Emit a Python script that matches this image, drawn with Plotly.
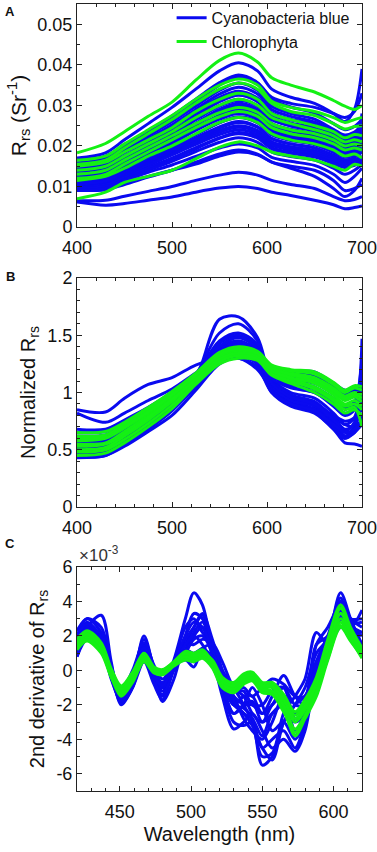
import plotly.graph_objects as go

# ---------------- DATA ----------------
# Panel A / B wavelengths (nm)
wl_ab = [400, 430, 450, 475, 500, 525, 550, 570, 590, 605, 625, 650, 670, 682, 692, 700]

# Panel A: Rrs (units of 1e-3 sr^-1)
rrs_cyano_milli = [
    [17.0, 18.3, 21.5, 25.5, 29.5, 34.0, 38.5, 40.5, 38.5, 34.0, 32.0, 30.5, 28.0, 26.0, 29.0, 39.0],
    [15.8, 17.0, 20.0, 23.6, 27.4, 31.5, 35.6, 37.5, 35.6, 31.5, 29.6, 28.1, 25.5, 24.0, 24.8, 26.5],
    [16.5, 17.5, 20.0, 23.5, 27.0, 31.0, 35.0, 37.0, 35.5, 32.0, 30.5, 29.5, 28.0, 27.0, 28.5, 33.0],
    [15.0, 16.0, 18.8, 22.4, 26.0, 29.8, 33.7, 35.5, 33.7, 29.8, 28.0, 26.6, 24.1, 22.7, 23.4, 25.0],
    [14.5, 15.5, 18.3, 21.7, 25.2, 29.0, 32.8, 34.5, 32.8, 29.0, 27.3, 25.9, 23.5, 22.1, 22.8, 24.5],
    [14.0, 15.0, 17.5, 21.0, 24.5, 28.0, 31.5, 33.0, 31.5, 28.0, 26.5, 25.5, 23.5, 22.0, 23.0, 26.0],
    [12.5, 13.5, 16.5, 20.5, 24.5, 28.5, 32.0, 33.5, 31.8, 28.2, 26.5, 25.1, 22.8, 21.4, 22.1, 23.5],
    [13.7, 14.6, 17.2, 20.5, 23.7, 27.3, 30.9, 32.5, 30.9, 27.3, 25.7, 24.4, 22.1, 20.8, 21.5, 23.0],
    [11.5, 12.5, 15.5, 19.0, 22.5, 26.5, 30.0, 31.5, 29.9, 26.5, 24.9, 23.6, 21.4, 20.2, 20.8, 22.0],
    [13.0, 14.0, 16.5, 19.8, 23.0, 26.5, 29.8, 31.2, 29.8, 26.5, 25.0, 24.0, 22.0, 20.5, 21.5, 24.0],
    [12.8, 13.7, 16.2, 19.2, 22.3, 25.6, 29.0, 30.5, 29.0, 25.6, 24.1, 22.9, 20.7, 19.5, 20.1, 21.0],
    [11.0, 12.0, 14.8, 18.3, 21.8, 25.2, 28.5, 30.0, 28.5, 25.2, 23.7, 22.5, 20.4, 19.2, 19.8, 28.0],
    [12.0, 13.0, 15.8, 19.0, 22.0, 25.3, 28.5, 29.8, 28.4, 25.2, 23.8, 22.8, 20.8, 19.6, 20.4, 22.5],
    [12.2, 13.0, 15.4, 18.3, 21.2, 24.4, 27.6, 29.0, 27.6, 24.4, 22.9, 21.8, 19.7, 18.6, 19.1, 20.5],
    [11.8, 12.6, 15.0, 18.0, 21.0, 24.0, 27.0, 28.5, 27.2, 24.0, 22.6, 21.5, 19.6, 18.3, 19.0, 21.0],
    [10.5, 11.5, 14.2, 17.5, 20.5, 23.8, 26.6, 28.0, 26.6, 23.5, 22.1, 21.0, 19.0, 17.9, 18.5, 19.5],
    [10.8, 11.7, 14.0, 17.0, 19.8, 22.8, 25.8, 27.2, 26.0, 23.0, 21.6, 20.6, 18.7, 17.5, 18.2, 19.5],
    [11.3, 12.2, 14.3, 17.0, 19.7, 22.7, 25.7, 27.0, 25.7, 22.7, 21.3, 20.3, 18.4, 17.3, 17.8, 19.0],
    [10.0, 11.0, 13.5, 16.5, 19.2, 22.0, 24.7, 26.0, 24.7, 21.8, 20.5, 19.5, 17.7, 16.6, 17.2, 25.0],
    [10.2, 11.0, 13.0, 16.0, 18.8, 21.6, 24.4, 25.8, 24.6, 21.8, 20.5, 19.5, 17.6, 16.5, 17.2, 18.5],
    [10.5, 11.3, 13.3, 15.8, 18.3, 21.0, 23.8, 25.0, 23.8, 21.0, 19.8, 18.8, 17.0, 16.0, 16.5, 17.5],
    [9.8, 10.6, 12.8, 15.5, 18.0, 20.8, 23.4, 24.6, 23.4, 20.7, 19.5, 18.5, 16.8, 15.8, 16.4, 17.0],
    [9.5, 10.3, 12.5, 15.2, 17.8, 20.4, 22.8, 24.0, 22.8, 20.2, 19.0, 18.0, 16.3, 15.4, 15.8, 16.5],
    [9.2, 10.0, 12.0, 14.6, 17.0, 19.6, 22.0, 23.3, 22.2, 19.6, 18.4, 17.5, 15.8, 14.8, 15.5, 16.8],
    [9.7, 10.4, 12.2, 14.5, 16.8, 19.3, 21.9, 23.0, 21.9, 19.3, 18.2, 17.3, 15.6, 14.7, 15.2, 16.0],
    [9.0, 9.8, 11.7, 14.0, 16.2, 18.6, 20.9, 22.0, 20.9, 18.5, 17.4, 16.5, 14.5, 13.0, 14.0, 15.5],
    [9.5, 10.0, 11.5, 13.5, 15.3, 17.4, 19.5, 20.5, 19.5, 17.2, 16.2, 15.2, 13.0, 11.0, 12.5, 14.5],
    [9.0, 9.2, 10.5, 12.3, 14.0, 16.0, 18.0, 19.0, 18.0, 16.0, 14.5, 12.5, 9.5, 7.5, 9.0, 12.0],
    [9.0, 9.5, 11.0, 12.5, 14.0, 15.5, 17.5, 18.5, 17.8, 16.0, 15.0, 14.0, 11.5, 9.0, 9.5, 10.5],
    [6.5, 6.6, 7.6, 8.8, 10.0, 11.5, 12.8, 13.5, 12.8, 11.5, 10.5, 9.5, 7.5, 6.5, 6.8, 7.5],
    [6.2, 5.4, 5.8, 6.6, 7.4, 8.6, 9.6, 10.0, 9.5, 8.6, 7.8, 6.6, 5.5, 4.5, 4.8, 5.2],
]
rrs_chloro_milli = [
    [18.3, 20.6, 23.5, 27.3, 30.8, 36.2, 41.1, 42.9, 40.7, 36.8, 35.0, 33.3, 31.2, 29.8, 29.0, 30.0],
    [16.5, 17.5, 20.5, 24.0, 27.5, 31.5, 35.0, 36.5, 35.0, 31.0, 29.5, 28.5, 27.0, 25.8, 26.5, 27.0],
    [15.5, 16.5, 19.5, 23.0, 26.5, 30.5, 34.0, 35.5, 34.0, 30.5, 28.5, 27.5, 25.5, 24.2, 24.8, 25.0],
    [15.0, 16.0, 18.5, 21.5, 24.5, 28.5, 31.5, 33.0, 31.5, 28.0, 26.5, 25.0, 23.5, 22.0, 22.8, 22.5],
    [14.0, 15.0, 17.5, 20.5, 23.5, 27.0, 30.0, 31.5, 30.0, 27.0, 25.5, 24.0, 22.5, 21.0, 21.5, 21.0],
    [13.0, 14.0, 16.5, 19.5, 22.5, 25.5, 28.2, 29.5, 28.3, 25.5, 24.0, 23.0, 21.5, 20.0, 20.5, 20.0],
    [12.0, 13.0, 15.5, 18.5, 21.5, 24.5, 27.2, 28.5, 27.3, 24.5, 23.0, 22.0, 20.5, 19.0, 19.5, 19.0],
    [11.5, 12.5, 14.5, 17.5, 20.0, 23.0, 25.8, 27.0, 25.8, 23.0, 21.5, 20.5, 19.0, 17.5, 18.0, 17.0],
    [7.0, 8.6, 11.0, 12.5, 14.0, 16.8, 19.7, 21.0, 20.0, 18.5, 17.5, 16.5, 15.0, 14.0, 15.5, 15.0],
]

# Panel B: normalized Rrs
norm_cyano = [
    [0.85, 0.83, 0.95, 1.07, 1.13, 1.24, 1.30, 1.30, 1.20, 1.03, 0.92, 0.86, 0.78, 0.72, 0.70, 0.75],
    [0.82, 0.74, 0.82, 0.93, 1.03, 1.17, 1.30, 1.35, 1.25, 1.05, 0.95, 0.90, 0.80, 0.75, 0.78, 0.85],
    [0.45, 0.46, 0.55, 0.70, 0.86, 1.12, 1.64, 1.66, 1.48, 1.10, 0.95, 0.88, 0.72, 0.62, 0.70, 0.95],
    [0.47, 0.48, 0.57, 0.72, 0.88, 1.15, 1.52, 1.60, 1.45, 1.05, 0.90, 0.83, 0.68, 0.60, 0.68, 1.10],
    [0.50, 0.51, 0.60, 0.75, 0.90, 1.15, 1.45, 1.52, 1.42, 1.12, 1.00, 0.95, 0.82, 0.72, 0.78, 1.25],
    [0.52, 0.53, 0.62, 0.76, 0.92, 1.16, 1.43, 1.50, 1.40, 1.15, 1.05, 1.00, 0.88, 0.80, 0.85, 1.47],
    [0.55, 0.56, 0.65, 0.78, 0.93, 1.15, 1.40, 1.48, 1.38, 1.18, 1.10, 1.05, 0.95, 0.88, 0.92, 1.30],
    [0.58, 0.59, 0.68, 0.80, 0.95, 1.14, 1.37, 1.45, 1.36, 1.20, 1.13, 1.10, 1.00, 0.95, 0.97, 1.15],
    [0.60, 0.61, 0.70, 0.82, 0.96, 1.13, 1.33, 1.42, 1.36, 1.22, 1.17, 1.15, 1.05, 1.00, 1.02, 1.10],
    [0.62, 0.63, 0.72, 0.84, 0.98, 1.14, 1.32, 1.40, 1.35, 1.23, 1.19, 1.18, 1.08, 1.02, 1.03, 1.05],
    [0.65, 0.66, 0.74, 0.86, 1.00, 1.16, 1.33, 1.40, 1.34, 1.20, 1.15, 1.12, 1.02, 0.98, 1.00, 1.08],
    [0.68, 0.68, 0.76, 0.87, 1.00, 1.15, 1.32, 1.38, 1.32, 1.18, 1.12, 1.08, 1.00, 0.96, 0.98, 1.00],
    [0.48, 0.49, 0.58, 0.72, 0.87, 1.10, 1.38, 1.45, 1.35, 1.10, 0.98, 0.92, 0.78, 0.68, 0.72, 0.90],
    [0.44, 0.45, 0.55, 0.68, 0.84, 1.05, 1.27, 1.32, 1.25, 1.05, 0.93, 0.88, 0.75, 0.62, 0.65, 0.80],
    [0.46, 0.48, 0.58, 0.70, 0.86, 1.08, 1.30, 1.35, 1.27, 1.00, 0.88, 0.82, 0.68, 0.56, 0.55, 0.53],
    [0.53, 0.54, 0.63, 0.77, 0.92, 1.12, 1.35, 1.42, 1.34, 1.12, 1.04, 1.00, 0.90, 0.82, 0.86, 0.95],
    [0.57, 0.58, 0.67, 0.80, 0.95, 1.13, 1.36, 1.44, 1.36, 1.15, 1.07, 1.03, 0.93, 0.86, 0.90, 1.20],
    [0.50, 0.52, 0.61, 0.74, 0.90, 1.12, 1.40, 1.48, 1.38, 1.08, 0.96, 0.90, 0.76, 0.66, 0.74, 1.02],
    [0.46, 0.47, 0.56, 0.70, 0.85, 1.08, 1.34, 1.42, 1.32, 1.02, 0.90, 0.85, 0.70, 0.60, 0.65, 0.72],
    [0.43, 0.45, 0.53, 0.66, 0.80, 1.02, 1.25, 1.30, 1.22, 1.00, 0.90, 0.84, 0.72, 0.65, 0.68, 0.75],
]
norm_chloro = [
    [0.45, 0.47, 0.56, 0.70, 0.86, 1.07, 1.25, 1.30, 1.28, 1.15, 1.08, 1.00, 0.90, 0.82, 0.85, 0.80],
    [0.50, 0.52, 0.62, 0.76, 0.92, 1.10, 1.28, 1.33, 1.30, 1.18, 1.12, 1.05, 0.95, 0.88, 0.90, 0.85],
    [0.55, 0.56, 0.66, 0.80, 0.95, 1.12, 1.30, 1.35, 1.32, 1.20, 1.15, 1.10, 1.00, 0.93, 0.96, 0.92],
    [0.58, 0.60, 0.69, 0.82, 0.97, 1.14, 1.32, 1.37, 1.33, 1.22, 1.17, 1.13, 1.04, 0.97, 1.00, 0.98],
    [0.62, 0.63, 0.72, 0.85, 0.99, 1.16, 1.34, 1.39, 1.35, 1.23, 1.19, 1.16, 1.07, 1.00, 1.04, 1.02],
    [0.65, 0.66, 0.74, 0.87, 1.01, 1.17, 1.35, 1.40, 1.36, 1.24, 1.20, 1.18, 1.09, 1.02, 1.06, 1.05],
    [0.60, 0.61, 0.70, 0.83, 0.98, 1.15, 1.33, 1.38, 1.34, 1.21, 1.16, 1.12, 1.02, 0.95, 0.98, 0.95],
    [0.53, 0.55, 0.64, 0.78, 0.94, 1.11, 1.29, 1.34, 1.31, 1.19, 1.13, 1.08, 0.98, 0.90, 0.93, 0.88],
    [0.48, 0.50, 0.59, 0.73, 0.89, 1.08, 1.27, 1.32, 1.29, 1.16, 1.10, 1.03, 0.93, 0.85, 0.87, 0.70],
]

# Panel C: 2nd derivative of Rrs (units of 1e-3)
wl_c = [420, 427, 437, 444, 451, 459, 467, 474, 480, 488, 496, 502, 508, 515,
        522, 530, 537, 543, 550, 557, 565, 573, 580, 588, 596, 605, 612, 620]
d2_cyano = [
    [1.5, 2.8, 1.8, -0.3, -1.6, -0.6, 1.5, -0.2, -1.0, 0.6, 3.0, 4.5, 3.8, 1.2, -1.0, -2.5, -2.0, -1.8, -3.0, -2.5, -2.0, -3.0, -2.5, -0.5, 1.5, 4.5, 3.0, 1.5],
    [2.0, 3.0, 2.5, 0.3, -1.5, -0.5, 2.0, 0.0, -1.8, -0.5, 2.0, 3.3, 3.0, 1.5, -0.5, -2.0, -2.2, -2.8, -5.5, -5.0, -3.0, -2.0, -1.5, 0.0, 1.0, 3.0, 2.5, 3.5],
    [1.0, 2.5, 3.2, 0.5, -2.0, -1.0, 1.0, -0.5, -1.5, 0.3, 1.5, 2.5, 3.3, 1.8, 0.0, -1.0, -2.0, -3.0, -5.0, -4.8, -2.5, -1.5, -0.5, 2.2, 1.5, 3.5, 2.5, 2.0],
    [0.8, 2.0, 1.5, -0.5, -1.7, -0.8, 0.8, -0.4, -1.2, 0.2, 1.2, 2.2, 2.8, 1.0, -1.0, -3.0, -3.2, -3.0, -4.5, -4.0, -3.5, -4.5, -3.0, 0.5, 2.0, 4.2, 2.0, 1.0],
    [1.8, 2.6, 2.0, 0.0, -1.4, -0.3, 1.8, 0.2, -0.8, 0.5, 2.5, 3.0, 2.2, 1.5, -0.3, -1.5, -2.8, -3.5, -4.0, -3.0, -1.5, -2.5, -1.8, 1.5, 2.0, 4.0, 3.0, 2.5],
    [1.2, 2.2, 2.0, 0.0, -1.9, -1.0, 0.5, -0.8, -1.7, 0.0, 1.0, 2.0, 2.5, 0.8, -1.5, -3.4, -3.0, -2.5, -3.5, -4.5, -4.0, -4.7, -3.5, 0.0, 1.5, 3.8, 2.8, 2.8],
    [2.3, 3.0, 2.2, 0.2, -1.2, 0.0, 1.6, 0.3, -0.5, 0.4, 0.8, 0.5, 1.0, 0.8, -0.5, -1.2, -1.0, -1.5, -1.0, -0.5, -0.8, -1.5, -1.5, 0.5, 1.5, 4.0, 3.0, 3.0],
    [1.6, 2.5, 1.6, -0.2, -1.3, -0.5, 1.0, -0.3, -0.8, 0.3, 1.8, 2.5, 3.2, 1.5, -0.8, -2.0, -2.5, -3.2, -4.5, -5.2, -3.0, -2.0, -1.0, 1.0, 1.8, 3.5, 2.6, 2.2],
    [1.3, 2.3, 1.8, 0.0, -1.5, -0.6, 1.2, -0.2, -1.0, 0.4, 1.5, 1.5, 1.8, 1.6, 0.5, -1.0, -1.5, -2.5, -3.0, -2.0, -1.5, -3.5, -2.5, 0.0, 1.0, 3.0, 2.0, 1.2],
    [0.8, 1.8, 1.5, -0.4, -1.8, -0.7, 0.8, -0.6, -1.4, 0.1, 1.0, 1.8, 2.0, 1.0, -0.8, -2.5, -2.0, -1.0, -2.0, -3.5, -3.0, -4.0, -3.0, -0.5, 1.0, 3.2, 2.4, 1.0],
    [2.0, 2.7, 2.0, -0.1, -1.6, -0.6, 1.4, 0.0, -1.0, 0.5, 2.0, 2.8, 2.5, 1.2, -0.5, -2.0, -1.5, -1.5, -2.5, -2.0, -1.0, -2.0, -2.0, 1.5, 2.5, 3.8, 2.5, 2.2],
    [1.0, 2.0, 1.6, -0.2, -1.5, -0.5, 1.0, -0.3, -1.0, 0.2, 0.6, 0.2, 1.2, 0.8, -0.8, -1.5, -2.0, -2.0, -2.5, -1.5, -0.3, -1.5, -2.0, 0.5, 1.5, 3.0, 2.0, 1.5],
    [1.7, 2.4, 1.7, -0.2, -1.3, -0.4, 1.3, -0.1, -0.7, 0.4, 1.2, 1.0, 1.3, 1.5, 0.0, -1.8, -2.5, -2.8, -3.8, -2.5, -2.0, -3.8, -2.5, -1.0, 1.0, 2.5, 2.2, 1.0],
    [1.4, 2.1, 1.9, 0.0, -1.5, -0.5, 1.1, -0.3, -0.9, 0.3, 1.5, 2.0, 1.5, 0.5, -0.5, -1.2, -1.2, -2.0, -2.0, -1.2, -1.0, -2.8, -2.2, 0.2, 1.2, 3.5, 2.6, 1.5],
]
d2_chloro = [
    [1.5, 2.0, 1.3, -0.2, -1.2, -0.4, 0.8, 0.0, -0.1, 0.4, 0.9, 0.8, 1.0, 0.4, -0.7, -1.0, -0.5, -0.3, -1.0, -1.0, -1.8, -3.0, -2.3, -1.0, 1.0, 3.0, 2.0, 1.0],
    [1.2, 1.7, 1.0, -0.4, -1.4, -0.6, 0.6, -0.1, -0.2, 0.3, 0.7, 0.6, 0.8, 0.2, -0.9, -1.2, -0.7, -0.5, -1.2, -1.3, -2.2, -3.8, -2.8, -1.5, 0.6, 2.5, 1.7, 0.8],
    [1.7, 2.2, 1.5, 0.0, -1.0, -0.2, 1.0, 0.1, 0.0, 0.5, 1.1, 1.0, 1.2, 0.5, -0.5, -0.8, -0.3, -0.2, -0.8, -0.8, -1.5, -2.6, -1.9, -0.6, 1.5, 3.6, 2.4, 1.2],
    [1.4, 1.9, 1.2, -0.3, -1.3, -0.5, 0.7, -0.05, -0.15, 0.35, 0.8, 0.7, 0.9, 0.3, -0.8, -1.1, -0.6, -0.4, -1.1, -1.2, -2.0, -3.4, -2.6, -1.2, 0.8, 2.8, 1.9, 0.9],
    [1.6, 2.1, 1.4, -0.1, -1.1, -0.3, 0.9, 0.05, -0.05, 0.45, 1.0, 0.9, 1.1, 0.45, -0.6, -0.9, -0.4, -0.25, -0.9, -0.9, -1.7, -2.8, -2.1, -0.8, 1.2, 3.3, 2.2, 1.1],
    [1.3, 1.8, 1.1, -0.35, -1.5, -0.7, 0.5, -0.15, -0.25, 0.25, 0.6, 0.5, 0.7, 0.15, -1.0, -1.3, -0.8, -0.6, -1.3, -1.4, -2.4, -3.6, -2.7, -1.3, 0.7, 2.6, 1.8, 0.7],
    [1.8, 2.3, 1.6, 0.1, -0.9, -0.1, 1.0, 0.2, 0.05, 0.5, 1.0, 0.8, 1.0, 0.6, -0.4, -0.7, -0.2, -0.1, -0.7, -0.7, -1.4, -2.4, -1.7, -0.4, 1.8, 3.8, 2.5, 1.3],
]

c_ticks = [-6, -4, -2, 0, 2, 4, 6]
c_ticktext = ['-6', '-4', '-2', '0', '2', '4', '6']
series_names = ['Cyanobacteria blue', 'Chlorophyta']

# ---------------- STYLE ----------------
BLUE = '#0a0af0'
GREEN = '#14f014'
LW = 3.0
FONT = 'Arial, Liberation Sans, sans-serif'

fig = go.Figure()

def add_lines(x, rows, color, xa, ya, name=None, legend_first=False, scale=1.0):
    for i, r in enumerate(rows):
        fig.add_trace(go.Scatter(
            x=x, y=[v * scale for v in r], mode='lines',
            line=dict(color=color, width=LW, shape='spline', smoothing=0.9),
            xaxis=xa, yaxis=ya, name=name,
            showlegend=(legend_first and i == 0), hoverinfo='skip'))

add_lines(wl_ab, rrs_cyano_milli, BLUE, 'x', 'y', series_names[0], True, 0.001)
add_lines(wl_ab, rrs_chloro_milli, GREEN, 'x', 'y', series_names[1], True, 0.001)
add_lines(wl_ab, norm_cyano, BLUE, 'x2', 'y2')
add_lines(wl_ab, norm_chloro, GREEN, 'x2', 'y2')
add_lines(wl_c, d2_cyano, BLUE, 'x3', 'y3')
add_lines(wl_c, d2_chloro, GREEN, 'x3', 'y3')

tickfont = dict(family=FONT, size=18, color='#111')
titlefont = dict(family=FONT, size=20, color='#111')
titlefont_a = dict(family=FONT, size=21, color='#111')

def axis_common():
    return dict(showline=True, linecolor='#222', linewidth=1, mirror='ticks',
                ticks='inside', ticklen=5, tickcolor='#222', showgrid=False,
                zeroline=False, tickfont=tickfont, automargin=False,
                ticklabeloverflow='allow')

MINOR = dict(ticks='inside', ticklen=3, tickcolor='#222', showgrid=False)

dA = [0.7166, 1.0]
dB = [0.3609, 0.6518]
dC = [0.0, 0.2846]

fig.update_layout(
    template='none',
    width=377, height=852,
    margin=dict(l=77, r=15, t=4, b=61, autoexpand=False),
    paper_bgcolor='white', plot_bgcolor='white',
    font=dict(family=FONT, color='#111'),
    showlegend=True,
    legend=dict(x=0.332, y=1.004, xanchor='left', yanchor='top',
                bgcolor='rgba(0,0,0,0)', font=dict(family=FONT, size=16, color='#111'),
                tracegroupgap=0),
    xaxis=dict(axis_common(), domain=[0, 1], anchor='y', range=[400, 700],
               dtick=100, tick0=400, ticklabelstandoff=4,
               minor=dict(MINOR, dtick=20)),
    yaxis=dict(axis_common(), domain=dA, anchor='x', range=[0, 0.055],
               dtick=0.01, tick0=0,
               minor=dict(MINOR, dtick=0.005),
               title=dict(text='R<sub>rs</sub> (Sr<sup>-1</sup>)', font=titlefont_a, standoff=5)),
    xaxis2=dict(axis_common(), domain=[0, 1], anchor='y2', range=[400, 700],
                dtick=100, tick0=400, ticklabelstandoff=4,
                minor=dict(MINOR, dtick=20)),
    yaxis2=dict(axis_common(), domain=dB, anchor='x2', range=[0, 2],
                dtick=0.5, tick0=0,
                minor=dict(MINOR, dtick=0.1),
                title=dict(text='Normalized R<sub>rs</sub>', font=titlefont, standoff=6)),
    xaxis3=dict(axis_common(), domain=[0, 1], anchor='y3', range=[420, 620],
                dtick=50, tick0=400, ticklabelstandoff=4,
                minor=dict(MINOR, dtick=10),
                title=dict(text='Wavelength (nm)', font=titlefont, standoff=6)),
    yaxis3=dict(axis_common(), domain=dC, anchor='x3', range=[-7, 6],
                tickvals=c_ticks, ticktext=c_ticktext,
                minor=dict(MINOR, dtick=1, tick0=0),
                title=dict(text='2nd derivative of R<sub>rs</sub>', font=titlefont, standoff=6)),
)

lab = dict(xref='paper', yref='paper', showarrow=False,
           font=dict(family=FONT, size=13, color='#111'))
fig.add_annotation(lab, x=-0.235, y=0.990, text='<b>A</b>', xanchor='center', yanchor='middle')
fig.add_annotation(lab, x=-0.235, y=0.654, text='<b>B</b>', xanchor='center', yanchor='middle')
fig.add_annotation(lab, x=-0.235, y=0.315, text='<b>C</b>', xanchor='center', yanchor='middle')
fig.add_annotation(xref='paper', yref='paper', showarrow=False, x=0.0, y=0.2846,
                   xanchor='left', yanchor='bottom', yshift=0,
                   text='\u00d710<sup>-3</sup>',
                   font=dict(family=FONT, size=17, color='#333'))

fig.write_html('out.html', config={'displayModeBar': False},
               post_script="document.body.style.margin='0';")
